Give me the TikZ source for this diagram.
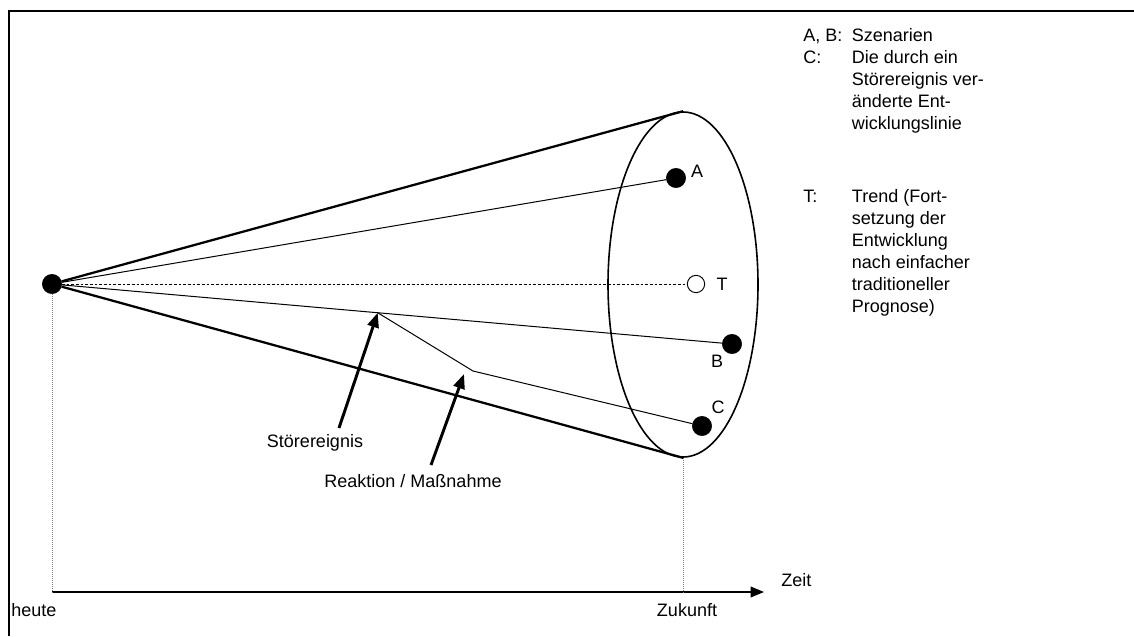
\documentclass[tikz,border=0pt]{standalone}
\usepackage{fontspec}
\setmainfont{Liberation Sans}
\usetikzlibrary{arrows.meta,positioning,shapes.geometric,calc}
\tikzset{
  punkt/.style={circle, fill=black, draw=black, minimum size=14.5pt, inner sep=0pt},
  leer/.style={circle, fill=white, draw=black, line width=0.7pt, minimum size=13pt, inner sep=0pt},
  dick/.style={line width=1.7pt},
  duenn/.style={line width=0.75pt},
  gestr/.style={duenn, dash pattern=on 2pt off 1.5pt},
  hilfs/.style={draw=gray, line width=0.6pt, dash pattern=on 0.75pt off 0.75pt},
  pfeil/.style={-{Triangle[length=11pt,width=8.5pt]}, line width=2.2pt},
  achse/.style={-{Triangle[length=10pt,width=8pt]}, line width=1.1pt},
  lbl/.style={font=\fontsize{13.5}{16.5}\selectfont, inner sep=0pt}
}

\begin{document}
\begin{tikzpicture}[x=0.75pt,y=-0.75pt]
  \useasboundingbox (0,0) rectangle (1134,636);
  % Rahmen
  \draw[line width=1.2pt] (9,636) -- (9,11) -- (1134,11);

  % Trichter
  \node[punkt] (heute0) at (52,284) {};
  \node[draw, ellipse, line width=1.2pt, minimum width=112.5pt, minimum height=258.75pt,
        inner sep=0pt] (rand) at (683,284.5) {};
  \draw[dick] (heute0) -- (rand.north);
  \draw[dick] (heute0) -- (rand.south);

  % Szenarien
  \node[punkt] (a) at (676,178) {};
  \node[leer] (t) at (696,284) {};
  \node[punkt] (b) at (732,344) {};
  \node[punkt] (c) at (702,426) {};
  \node[lbl] (la) at (697,171) {A};
  \node[lbl] (lt) at (722,284) {T};
  \node[lbl] (lb) at (717,361) {B};
  \node[lbl] (lc) at (718,407) {C};

  \draw[duenn] (heute0) -- (a);
  \draw[gestr] (heute0) -- (t);
  \draw[duenn] (heute0) -- (b);
  \coordinate (k1) at ($(heute0)!0.479!(b)$);
  \coordinate (k2) at (473,371);
  \draw[duenn] (k1) -- (k2) -- (c);

  % Zeitachse
  \coordinate (t0) at (52,592);
  \coordinate (t1) at (764,592);
  \draw[achse] (t0) -- (t1);
  \draw[hilfs] (heute0) -- (t0);
  \draw[hilfs] (rand.south) -- (rand.south |- t0);
  \node[lbl, anchor=west] (heute) at (11,610) {heute};
  \node[lbl] (zukunft) at (687,610) {Zukunft};
  \node[lbl, anchor=west] (zeit) at (781,580) {Zeit};

  % Ereignisse
  \node[lbl] (stoer) at (315,443) {Störereignis};
  \node[lbl] (reakt) at (413,481) {Reaktion / Maßnahme};
  \coordinate (s0) at (339,428);
  \coordinate (r0) at (431,465);
  \coordinate (r1) at (464,374);
  \draw[pfeil] (s0) -- (k1);
  \draw[pfeil] (r0) -- (r1);

  % Legende
  \node[lbl, anchor=north west] (legende) at (803,26) {%
    \begin{tabular}{@{}p{36.5pt}@{}l@{}}
      A, B: & Szenarien\\
      C:    & Die durch ein\\
            & Störereignis ver-\\
            & änderte Ent-\\
            & wicklungslinie\\[38pt]
      T:    & Trend (Fort-\\
            & setzung der\\
            & Entwicklung\\
            & nach einfacher\\
            & traditioneller\\
            & Prognose)
    \end{tabular}};
\end{tikzpicture}
\end{document}
